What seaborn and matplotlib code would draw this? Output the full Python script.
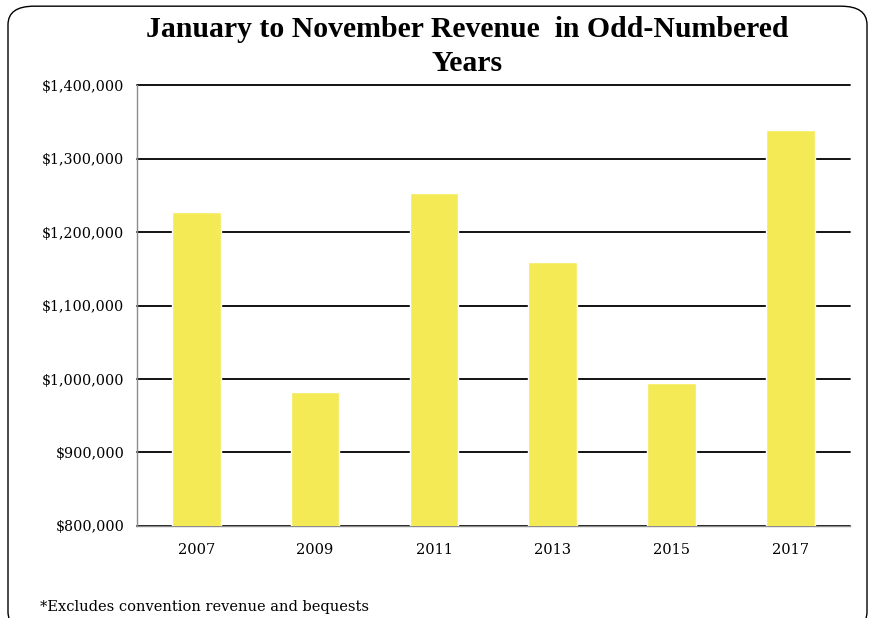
import matplotlib
matplotlib.use("Agg")
import matplotlib.pyplot as plt
from matplotlib.patches import FancyBboxPatch
from matplotlib.ticker import FuncFormatter, FixedLocator
import seaborn as sns
import pandas as pd

# Revenue values
years = ["2007", "2009", "2011", "2013", "2015", "2017"]
revenue = [1227000, 982000, 1253000, 1159000, 995000, 1339000]
y_ticks = [800000, 900000, 1000000, 1100000, 1200000, 1300000, 1400000]

df = pd.DataFrame({"Year": years, "Revenue": revenue})

sns.set_style("white")
plt.rcParams["font.family"] = ["DejaVu Serif"]
plt.rcParams["text.color"] = "black"
plt.rcParams["xtick.color"] = "black"
plt.rcParams["ytick.color"] = "black"

fig = plt.figure(figsize=(8.71, 6.18), dpi=100)
ax = fig.add_axes([0.157, 0.149, 0.819, 0.713])

sns.barplot(data=df, x="Year", y="Revenue", color="#F4EA55", width=0.41,
            saturation=1, ax=ax, zorder=3)

ax.set_ylim(800000, 1400000)
ax.set_xlim(-0.5, len(years) - 0.5)
ax.set_yticks(y_ticks)
ax.yaxis.set_major_formatter(FuncFormatter(lambda v, p: "${:,.0f}".format(v)))
ax.set_xlabel("")
ax.set_ylabel("")

# horizontal gridlines in black
ax.yaxis.grid(True, color="black", linewidth=1.3, zorder=1)
ax.set_axisbelow(True)
for gl in ax.yaxis.get_gridlines():
    gl.set_clip_on(False)

for s in ["top", "right"]:
    ax.spines[s].set_visible(False)
for s in ["left", "bottom"]:
    ax.spines[s].set_color("#8c8c8c")
    ax.spines[s].set_linewidth(1.0)

ax.tick_params(axis="y", length=5, color="#8c8c8c", labelsize=10.3,
               labelcolor="black", pad=4)
ax.tick_params(axis="x", which="major", length=0, labelsize=10.5,
               labelcolor="black", pad=12)
ax.xaxis.set_minor_locator(FixedLocator([i - 0.5 for i in range(len(years) + 1)]))
ax.tick_params(axis="x", which="minor", length=5, color="#8c8c8c")

fig.text(0.536, 0.974, "January to November Revenue  in Odd-Numbered\nYears",
         ha="center", va="top", fontsize=21.4, fontweight="bold",
         family="Liberation Serif", linespacing=1.31)

fig.text(0.046, 0.007, "*Excludes convention revenue and bequests",
         ha="left", va="bottom", fontsize=10.5)

# rounded frame around the chart area
frame = FancyBboxPatch((8 / 871, -0.02), 859 / 871, 1.01,
                       boxstyle="round,pad=0,rounding_size=0.03",
                       transform=fig.transFigure, fill=False,
                       edgecolor="black", linewidth=1.0, clip_on=False)
fig.patches.append(frame)

fig.savefig("out.png", dpi=100)
